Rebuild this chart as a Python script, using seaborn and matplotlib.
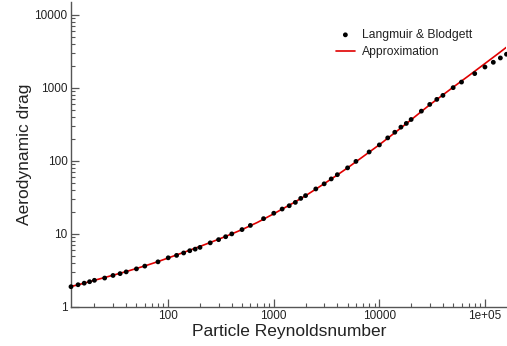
import numpy as np
import pandas as pd
import matplotlib
matplotlib.use("Agg")
import matplotlib.pyplot as plt
import seaborn as sns

# Langmuir & Blodgett data points
lb_re = [12, 14, 16, 18, 20, 25, 30, 35, 40, 50, 60, 80, 100, 120, 140, 160, 180, 200,
         250, 300, 350, 400, 500, 600, 800, 1000, 1200, 1400, 1600, 1800, 2000, 2500,
         3000, 3500, 4000, 5000, 6000, 8000, 10000, 12000, 14000, 16000, 18000, 20000,
         25000, 30000, 35000, 40000, 50000, 60000, 80000, 100000, 120000, 140000, 160000]
lb_drag = [1.88, 2.0, 2.1, 2.2, 2.3, 2.47, 2.68, 2.84, 3.0, 3.3, 3.6, 4.12, 4.68, 5.05,
           5.45, 5.85, 6.15, 6.5, 7.5, 8.3, 9.1, 9.95, 11.4, 13.0, 16.1, 19.1, 21.8, 24.2,
           26.9, 30.5, 33.3, 41.1, 48.3, 56.4, 64.5, 80, 98, 132, 165, 206, 246, 289, 325,
           368, 479, 592, 694, 787, 1005, 1199, 1566, 1928, 2238, 2565, 2884]

# Approximation curve
ap_re = [12, 15, 20, 30, 40, 60, 80, 100, 150, 200, 300, 400, 500, 700, 1000, 1500,
         2000, 3000, 4000, 5000, 7000, 10000, 15000, 20000, 30000, 50000, 70000,
         100000, 130000, 160000]
ap_drag = [1.89, 2.05, 2.30, 2.70, 3.03, 3.62, 4.15, 4.66, 5.75, 6.70, 8.40, 9.95, 11.4,
           14.3, 18.8, 26.0, 33.2, 48.5, 64, 80, 114, 166, 262, 365, 585, 1020, 1460,
           2150, 2860, 3600]

x_ticks = [100, 1000, 10000, 100000]
x_tick_labels = ["100", "1000", "10000", "1e+05"]
y_ticks = [1, 10, 100, 1000, 10000]
y_tick_labels = ["1", "10", "100", "1000", "10000"]

lb_df = pd.DataFrame({"re": lb_re, "drag": lb_drag})
ap_df = pd.DataFrame({"re": ap_re, "drag": ap_drag})

sns.set_style("white")
plt.rcParams["font.family"] = ["Liberation Sans", "DejaVu Sans"]

fig = plt.figure(figsize=(5.07, 3.46), dpi=100)
ax = fig.add_axes([71 / 507, 1 - 306.7 / 346, 1 - 71 / 507 - 0.001, (306.7 - 2) / 346])

sns.lineplot(data=ap_df, x="re", y="drag", ax=ax, color="#e00000", linewidth=1.2,
             label="Approximation", sort=False, zorder=2)
sns.scatterplot(data=lb_df, x="re", y="drag", ax=ax, color="black", s=12,
                edgecolor="none", label="Langmuir & Blodgett", zorder=3, clip_on=False)

ax.set_xscale("log")
ax.set_yscale("log")
ax.set_xlim(12, 160000)
ax.set_ylim(1, 15000)
ax.set_xticks(x_ticks, x_tick_labels)
ax.set_yticks(y_ticks, y_tick_labels)

spine_col = "#555555"
for s in ["top", "right"]:
    ax.spines[s].set_visible(False)
for s in ["left", "bottom"]:
    ax.spines[s].set_color(spine_col)
    ax.spines[s].set_linewidth(1.0)

ax.tick_params(which="major", direction="in", length=6, width=0.9, color=spine_col,
               labelsize=8.5, labelcolor="#222222", pad=2.5)
ax.tick_params(which="minor", direction="in", length=3, width=0.8, color=spine_col)
ax.tick_params(axis="both", which="both", bottom=True, left=True)

ax.set_xlabel("Particle Reynoldsnumber", fontsize=12.5, color="#222222", labelpad=1.5)
ax.set_ylabel("Aerodynamic drag", fontsize=12.5, color="#222222", labelpad=1.5)

handles, labels = ax.get_legend_handles_labels()
order = [labels.index("Langmuir & Blodgett"), labels.index("Approximation")]
leg = ax.legend([handles[i] for i in order], [labels[i] for i in order],
                loc="upper left", bbox_to_anchor=(336 / 507, 1 - 29 / 346),
                bbox_transform=fig.transFigure, frameon=False, fontsize=8.7,
                handlelength=1.55, handletextpad=0.6, labelspacing=0.45,
                borderaxespad=0, borderpad=0)
for t in leg.get_texts():
    t.set_color("#222222")

fig.savefig("out.png", dpi=100)
